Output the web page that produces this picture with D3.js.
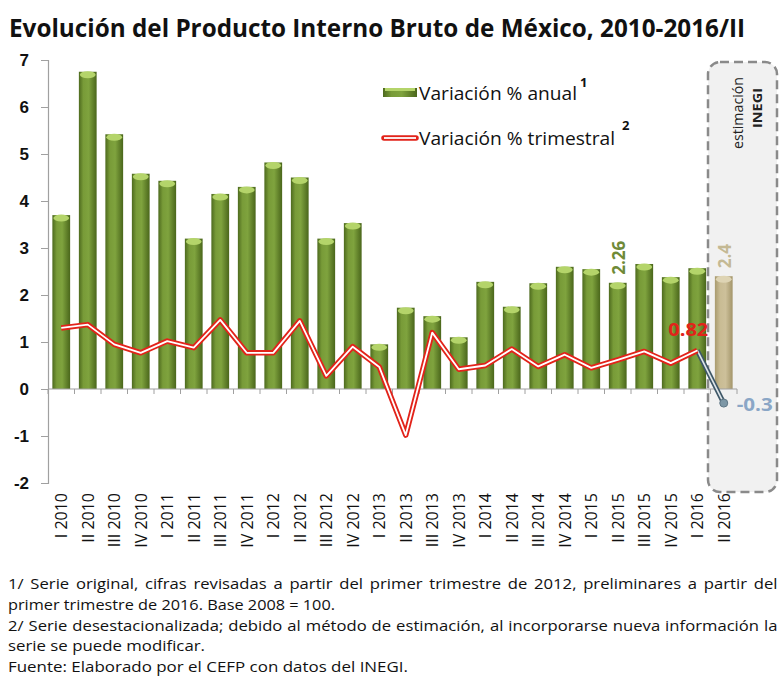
<!DOCTYPE html>
<html>
<head>
<meta charset="utf-8">
<script src="https://cdn.jsdelivr.net/npm/d3@7"></script>
<style>
  body { margin: 0; background: #fff; }
  svg { display: block; font-family: "Open Sans", "DejaVu Sans", sans-serif; }
</style>
</head>
<body>
<div id="chart"></div>
<script>
// data
var categories = ['I 2010', 'II 2010', 'III 2010', 'IV 2010',
  'I 2011', 'II 2011', 'III 2011', 'IV 2011',
  'I 2012', 'II 2012', 'III 2012', 'IV 2012',
  'I 2013', 'II 2013', 'III 2013', 'IV 2013',
  'I 2014', 'II 2014', 'III 2014', 'IV 2014',
  'I 2015', 'II 2015', 'III 2015', 'IV 2015',
  'I 2016', 'II 2016'];
var anual = [3.7, 6.75, 5.42, 4.58, 4.43, 3.2, 4.15, 4.3, 4.82, 4.5, 3.2, 3.53,
  0.95, 1.73, 1.55, 1.1, 2.28, 1.75, 2.25, 2.6, 2.55, 2.26, 2.66, 2.38, 2.57, 2.4];
var trimestral = [1.3, 1.37, 0.95, 0.77, 1.02, 0.88, 1.47, 0.77, 0.77, 1.45, 0.28, 0.9,
  0.47, -0.98, 1.2, 0.42, 0.5, 0.85, 0.48, 0.73, 0.45, 0.62, 0.8, 0.55, 0.82, -0.3];
var estimado = 'II 2016';   // INEGI estimate
var yTicks = [-2, -1, 0, 1, 2, 3, 4, 5, 6, 7];

var width = 780, height = 686;

var svg = d3.select('#chart').append('svg')
  .attr('width', width)
  .attr('height', height);

var defs = svg.append('defs');
function cylGrad(id, stops) {
  var g = defs.append('linearGradient').attr('id', id)
    .attr('x1', '0%').attr('x2', '100%').attr('y1', '0%').attr('y2', '0%');
  stops.forEach(function(s) {
    g.append('stop').attr('offset', s[0]).attr('stop-color', s[1]);
  });
}
cylGrad('gGreen', [['0%', '#4d6a1e'], ['25%', '#789b38'], ['55%', '#7fa33e'], ['100%', '#4a661b']]);
cylGrad('gBeige', [['0%', '#a89a6e'], ['30%', '#c9bc94'], ['60%', '#cdc09a'], ['100%', '#a3956a']]);

var x = d3.scaleBand().domain(categories).range([48, 737]).paddingInner(0.33).paddingOuter(0.165);
var y = d3.scaleLinear().domain([-2, 7]).range([483, 60]);

// title
svg.append('text')
  .attr('x', 9).attr('y', 37)
  .attr('textLength', 736).attr('lengthAdjust', 'spacingAndGlyphs')
  .style('font-size', '25px').style('font-weight', 'bold').style('fill', '#111')
  .text('Evolución del Producto Interno Bruto de México, 2010-2016/II');

// estimate box
svg.append('rect')
  .attr('x', 708).attr('y', 62).attr('width', 69).attr('height', 430)
  .attr('rx', 12)
  .style('fill', '#f1f1f1').style('stroke', '#8a8a8a')
  .style('stroke-width', 2.5).style('stroke-dasharray', '9,5');

svg.append('text')
  .attr('transform', 'translate(743,113) rotate(-90)')
  .attr('text-anchor', 'middle')
  .attr('textLength', 72).attr('lengthAdjust', 'spacingAndGlyphs')
  .style('font-size', '15px').style('fill', '#222')
  .text('estimación');
svg.append('text')
  .attr('transform', 'translate(762,108) rotate(-90)')
  .attr('text-anchor', 'middle')
  .attr('textLength', 40).attr('lengthAdjust', 'spacingAndGlyphs')
  .style('font-size', '13px').style('font-weight', 'bold').style('fill', '#222')
  .text('INEGI');

// y axis
var yAxis = d3.axisLeft(y).tickValues(yTicks).tickSize(7).tickFormat(function(d) { return String(d); });
var gy = svg.append('g').attr('transform', 'translate(48,0)').call(yAxis);
gy.select('.domain').style('stroke', '#a0a0a0').style('stroke-width', 1.2);
gy.selectAll('.tick line').style('stroke', '#a0a0a0');
gy.selectAll('.tick text')
  .attr('x', -19)
  .style('font-size', '17px').style('font-weight', 'bold').style('fill', '#111');

// bars
var barData = categories.map(function(c, i) { return { cat: c, v: anual[i] }; });
var bars = svg.append('g').selectAll('g.bar').data(barData).enter().append('g').attr('class', 'bar');
bars.append('rect')
  .attr('x', function(d) { return x(d.cat); })
  .attr('y', function(d) { return y(d.v); })
  .attr('width', x.bandwidth())
  .attr('height', function(d) { return y(0) - y(d.v); })
  .style('fill', function(d) { return d.cat === estimado ? 'url(#gBeige)' : 'url(#gGreen)'; });
bars.append('ellipse')
  .attr('cx', function(d) { return x(d.cat) + x.bandwidth() / 2; })
  .attr('cy', function(d) { return y(d.v) + 3; })
  .attr('rx', x.bandwidth() / 2 - 1)
  .attr('ry', 3.5)
  .style('fill', function(d) { return d.cat === estimado ? '#ded4b4' : '#b4d46a'; });

// zero line with category ticks
var x0 = svg.append('g');
x0.append('line')
  .attr('x1', 48).attr('x2', 737).attr('y1', y(0)).attr('y2', y(0))
  .style('stroke', '#a0a0a0').style('stroke-width', 1.2);
x0.selectAll('line.t').data(categories.concat(['end'])).enter().append('line')
  .attr('class', 't')
  .attr('x1', function(d, i) { return 48 + x.step() * x.paddingOuter() - x.step() * x.paddingInner() / 2 + i * x.step(); })
  .attr('x2', function(d, i) { return 48 + x.step() * x.paddingOuter() - x.step() * x.paddingInner() / 2 + i * x.step(); })
  .attr('y1', y(0)).attr('y2', y(0) + 5)
  .style('stroke', '#a0a0a0');

// x labels
svg.append('g').selectAll('text').data(categories).enter().append('text')
  .attr('transform', function(d) {
    return 'translate(' + (x(d) + x.bandwidth() / 2 + 6) + ',493) rotate(-90)';
  })
  .attr('text-anchor', 'end')
  .style('font-size', '16px').style('fill', '#111')
  .text(function(d) { return d; });

// quarterly line (observed part and estimate)
var cx = function(i) { return x(categories[i]) + x.bandwidth() / 2; };
var line = d3.line().x(function(d) { return cx(d.i); }).y(function(d) { return y(d.v); });
var obs = trimestral.map(function(v, i) { return { i: i, v: v }; });
var n = categories.length;
var lineObs = obs.slice(0, n - 1), lineEst = obs.slice(n - 2);

svg.append('path').datum(lineEst).attr('d', line)
  .style('fill', 'none').style('stroke', '#3e5767').style('stroke-width', 5);
svg.append('path').datum(lineEst).attr('d', line)
  .style('fill', 'none').style('stroke', '#dfe6ea').style('stroke-width', 1.6);
svg.append('circle')
  .attr('cx', cx(n - 1)).attr('cy', y(trimestral[n - 1])).attr('r', 4)
  .style('fill', '#7d97a6').style('stroke', '#5e7685');

svg.append('path').datum(lineObs).attr('d', line)
  .style('fill', 'none').style('stroke', '#e2231a').style('stroke-width', 5.5)
  .style('stroke-linejoin', 'round');
svg.append('path').datum(lineObs).attr('d', line)
  .style('fill', 'none').style('stroke', '#fff').style('stroke-width', 1.8)
  .style('stroke-linejoin', 'round');

// value labels
var iII15 = categories.indexOf('II 2015');
svg.append('text')
  .attr('transform', 'translate(' + (cx(iII15) + 7) + ',' + (y(anual[iII15]) - 8) + ') rotate(-90)')
  .style('font-size', '17px').style('font-weight', 'bold').style('fill', '#6f8a38')
  .text(d3.format('.2f')(anual[iII15]));
svg.append('text')
  .attr('transform', 'translate(' + (cx(n - 1) + 7) + ',' + (y(anual[n - 1]) - 8) + ') rotate(-90)')
  .style('font-size', '17px').style('font-weight', 'bold').style('fill', '#c4b994')
  .text(anual[n - 1]);
svg.append('text')
  .attr('x', cx(n - 2) + 11).attr('y', y(trimestral[n - 2]) - 14)
  .attr('text-anchor', 'end')
  .attr('textLength', 40).attr('lengthAdjust', 'spacingAndGlyphs')
  .style('font-size', '18px').style('font-weight', 'bold').style('fill', '#e2231a')
  .text(trimestral[n - 2]);
svg.append('text')
  .attr('x', cx(n - 1) + 13).attr('y', y(trimestral[n - 1]) + 8)
  .attr('textLength', 36).attr('lengthAdjust', 'spacingAndGlyphs')
  .style('font-size', '18px').style('font-weight', 'bold').style('fill', '#8aa6c6')
  .text(trimestral[n - 1]);

// legend
var lg = svg.append('g');
lg.append('rect').attr('x', 383).attr('y', 88).attr('width', 34).attr('height', 9)
  .style('fill', 'url(#gGreen)');
lg.append('rect').attr('x', 385).attr('y', 88).attr('width', 30).attr('height', 3)
  .style('fill', '#b4d46a');
lg.append('text').attr('x', 419).attr('y', 100)
  .attr('textLength', 158).attr('lengthAdjust', 'spacingAndGlyphs')
  .style('font-size', '19px').style('fill', '#111').text('Variación % anual');
lg.append('text').attr('x', 580).attr('y', 87)
  .style('font-size', '13px').style('font-weight', 'bold').style('fill', '#111').text('1');
lg.append('line').attr('x1', 384).attr('x2', 416).attr('y1', 138).attr('y2', 138)
  .style('stroke', '#e2231a').style('stroke-width', 5.5).style('stroke-linecap', 'round');
lg.append('line').attr('x1', 384).attr('x2', 416).attr('y1', 138).attr('y2', 138)
  .style('stroke', '#fff').style('stroke-width', 1.8);
lg.append('text').attr('x', 419).attr('y', 145)
  .attr('textLength', 196).attr('lengthAdjust', 'spacingAndGlyphs')
  .style('font-size', '19px').style('fill', '#111').text('Variación % trimestral');
lg.append('text').attr('x', 622).attr('y', 130)
  .style('font-size', '13px').style('font-weight', 'bold').style('fill', '#111').text('2');

// notes: condensed font look, first and third line justified
var notes = [
  ['1/ Serie original, cifras revisadas a partir del primer trimestre de 2012, preliminares a partir del', 770, true],
  ['primer trimestre de 2016. Base 2008 = 100.', 327, false],
  ['2/ Serie desestacionalizada; debido al método de estimación, al incorporarse nueva información la', 770, true],
  ['serie se puede modificar.', 197, false],
  ['Fuente: Elaborado por el CEFP con datos del INEGI.', 400, false]
];
var ng = svg.append('g');
var sq = [];
notes.forEach(function(d, i) {
  var t = ng.append('text')
    .attr('y', 589 + i * 20.8)
    .style('font-size', '15px').style('fill', '#111')
    .text(d[0]);
  t.attr('data-w', d[1]).attr('data-j', d[2] ? 1 : 0);
  if (!d[2]) sq.push(d[1] / t.node().getComputedTextLength());
});
var squeeze = d3.mean(sq);
ng.selectAll('text').each(function() {
  var t = d3.select(this);
  var w = +t.attr('data-w');
  var natural = this.getComputedTextLength();
  if (+t.attr('data-j')) {
    var spaces = t.text().split(' ').length - 1;
    var extra = (w / squeeze - natural) / spaces;
    t.style('word-spacing', extra + 'px');
    t.attr('transform', 'translate(8,0) scale(' + squeeze + ',1)');
  } else {
    t.attr('x', 8).attr('textLength', w).attr('lengthAdjust', 'spacingAndGlyphs');
  }
});
</script>
</body>
</html>
